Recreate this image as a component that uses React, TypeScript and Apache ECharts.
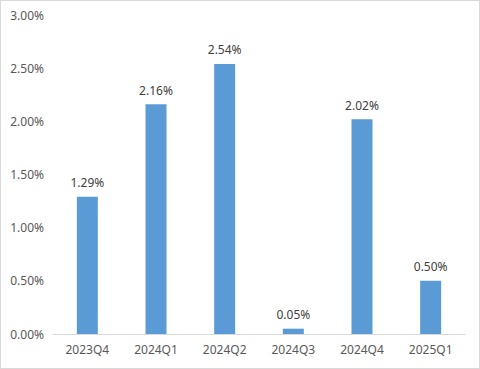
import React, { useEffect, useRef } from "react";
import * as echarts from "echarts";

const categories = ["2023Q4", "2024Q1", "2024Q2", "2024Q3", "2024Q4", "2025Q1"];
const values = [1.29, 2.16, 2.54, 0.05, 2.02, 0.5];

export default function App() {
  const ref = useRef<HTMLDivElement>(null);
  useEffect(() => {
    const chart = echarts.init(ref.current!, null, { renderer: "svg" });
    const font = "'Microsoft YaHei', 'Noto Sans', sans-serif";
    chart.setOption({
      animation: false,
      backgroundColor: "#ffffff",
      grid: { left: 53, right: 15, top: 15, bottom: 35, containLabel: false },
      xAxis: {
        type: "category",
        data: categories,
        axisLine: { lineStyle: { color: "#d9d9d9", width: 1 } },
        axisTick: { show: false },
        axisLabel: { color: "#595959", fontSize: 12, margin: 9, fontFamily: font },
      },
      yAxis: {
        type: "value",
        min: 0,
        max: 3,
        interval: 0.5,
        splitLine: { show: false },
        axisLine: { show: false },
        axisTick: { show: false },
        axisLabel: {
          color: "#595959",
          fontSize: 12,
          margin: 9,
          fontFamily: font,
          formatter: (v: number) => v.toFixed(2) + "%",
        },
      },
      series: [
        {
          type: "bar",
          data: values,
          barWidth: 21,
          itemStyle: { color: "#5b9bd5" },
          label: {
            show: true,
            position: "top",
            distance: 8,
            color: "#404040",
            fontSize: 12,
            fontFamily: font,
            formatter: (p: any) => p.value.toFixed(2) + "%",
          },
        },
      ],
    });
    return () => chart.dispose();
  }, []);
  return (
    <div style={{ position: "absolute", left: 0, top: 0, width: 480, height: 369 }}>
      <div ref={ref} style={{ position: "absolute", left: 0, top: 0, width: 480, height: 369 }} />
      <div
        style={{
          position: "absolute",
          left: 0,
          top: 0,
          width: 480,
          height: 369,
          border: "1px solid #d9d9d9",
          boxSizing: "border-box",
          pointerEvents: "none",
        }}
      />
    </div>
  );
}
